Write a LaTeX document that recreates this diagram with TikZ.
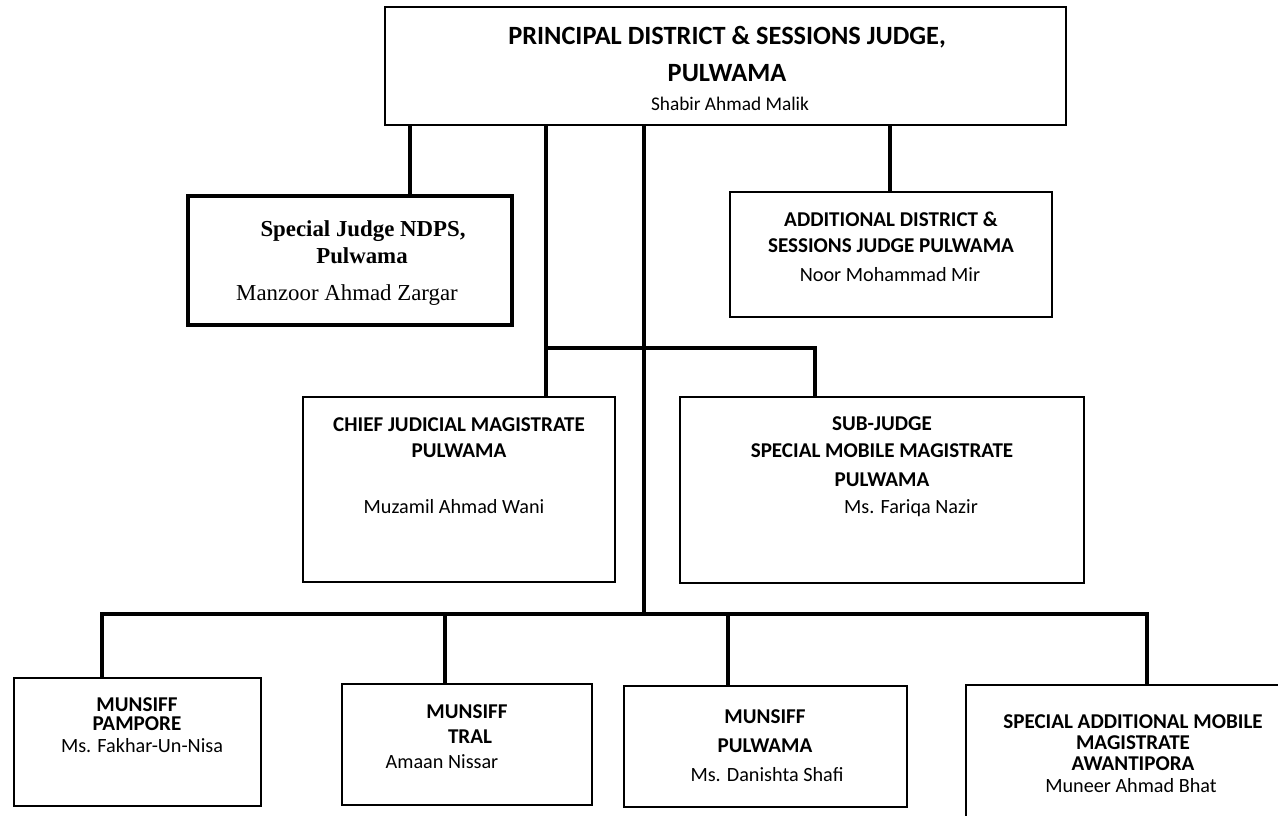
\documentclass[tikz,border=0pt]{standalone}
\usepackage{fontspec}
\setmainfont{Carlito}
\newfontfamily\timesfont{Liberation Serif}
\begin{document}
\begin{tikzpicture}[x=0.02cm,y=-0.02cm,
	box/.style={draw,line width=1.4pt,inner sep=0pt},
	conn/.style={line width=2.8pt},
	head/.style={font=\fontsize{15}{17}\selectfont\bfseries},
	post/.style={font=\fontsize{12}{14}\selectfont\bfseries},
	who/.style={font=\fontsize{11.5}{13}\selectfont},
	serifpost/.style={font=\timesfont\fontsize{13}{15}\selectfont\bfseries},
	serifwho/.style={font=\timesfont\fontsize{13}{15}\selectfont}]
	\useasboundingbox (0,0) rectangle (1278,815);

	% boxes
	\node[box,minimum width=13.62cm,minimum height=2.36cm] (pdsj) at (725.5,66) {};
	\node[box,line width=2.8pt,minimum width=6.48cm,minimum height=2.58cm] (ndps) at (350,260.5) {};
	\node[box,minimum width=6.44cm,minimum height=2.5cm] (adsj) at (891,254.5) {};
	\node[box,minimum width=6.24cm,minimum height=3.7cm] (cjm) at (459,489.5) {};
	\node[box,minimum width=8.08cm,minimum height=3.72cm] (subj) at (882,490) {};
	\node[box,minimum width=4.94cm,minimum height=2.56cm] (pampore) at (137.5,742) {};
	\node[box,minimum width=5cm,minimum height=2.42cm] (tral) at (467,744.5) {};
	\node[box,minimum width=5.66cm,minimum height=2.42cm] (pulwama) at (765.5,746.5) {};
	\node[box,minimum width=6.68cm,minimum height=3.3cm] (awanti) at (1133,767.5) {};

	% texts
	\node[head] (pdsj1) at (727,37) {PRINCIPAL DISTRICT \& SESSIONS JUDGE,};
	\node[head] (pdsj2) at (727,73) {PULWAMA};
	\node[who,font=\fontsize{11}{13}\selectfont] (pdsj3) at (730,104) {Shabir Ahmad Malik};

	\node[serifpost] (ndps1) at (363,231) {Special Judge NDPS,};
	\node[serifpost] (ndps2) at (362,256) {Pulwama};
	\node[serifwho] (ndps3) at (347,295) {Manzoor Ahmad Zargar};

	\node[post] (adsj1) at (891,219) {ADDITIONAL DISTRICT \&};
	\node[post] (adsj2) at (891,246) {SESSIONS JUDGE PULWAMA};
	\node[who] (adsj3) at (890,275) {Noor Mohammad Mir};

	\node[post] (cjm1) at (459,425) {CHIEF JUDICIAL MAGISTRATE};
	\node[post] (cjm2) at (459,451) {PULWAMA};
	\node[who] (cjm3) at (454,507) {Muzamil Ahmad Wani};

	\node[post] (subj1) at (882,424) {SUB-JUDGE};
	\node[post] (subj2) at (882,451) {SPECIAL MOBILE MAGISTRATE};
	\node[post] (subj3) at (882,480) {PULWAMA};
	\node[who] (subj4) at (911,508) {Ms. Fariqa Nazir};

	\node[post] (pampore1) at (137,705) {MUNSIFF};
	\node[post] (pampore2) at (137,724) {PAMPORE};
	\node[who] (pampore3) at (142,746) {Ms. Fakhar-Un-Nisa};

	\node[post] (tral1) at (467,712) {MUNSIFF};
	\node[post] (tral2) at (470,737) {TRAL};
	\node[who] (tral3) at (442,762) {Amaan Nissar};

	\node[post] (pulwama1) at (765,717) {MUNSIFF};
	\node[post] (pulwama2) at (765,746) {PULWAMA};
	\node[who] (pulwama3) at (767,775) {Ms. Danishta Shafi};

	\node[post] (awanti1) at (1133,722) {SPECIAL ADDITIONAL MOBILE};
	\node[post] (awanti2) at (1133,743) {MAGISTRATE};
	\node[post] (awanti3) at (1133,764) {AWANTIPORA};
	\node[who] (awanti4) at (1131,786) {Muneer Ahmad Bhat};

	% branch points
	\coordinate (ndpsx) at (410,160);
	\coordinate (adsjx) at (890,160);
	\coordinate (midl) at (546,348);
	\coordinate (midr) at (815,348);
	\coordinate (trunk) at (644,614);
	\coordinate (busl) at (102,614);
	\coordinate (busr) at (1147,614);
	\coordinate (tralx) at (445,614);
	\coordinate (pulx) at (728,614);

	\draw[conn] (pdsj.south -| ndpsx) -- (ndps.north -| ndpsx);
	\draw[conn] (pdsj.south -| adsjx) -- (adsj.north -| adsjx);
	\draw[conn] (pdsj.south -| midl) -- (cjm.north -| midl);
	\draw[conn] (midl) -- (midr) -- (subj.north -| midr);
	\draw[conn] (pdsj.south -| trunk) -- (trunk);
	\draw[conn] (pampore.north -| busl) -- (busl) -- (busr) -- (awanti.north -| busr);
	\draw[conn] (tralx) -- (tral.north -| tralx);
	\draw[conn] (pulx) -- (pulwama.north -| pulx);
\end{tikzpicture}
\end{document}
